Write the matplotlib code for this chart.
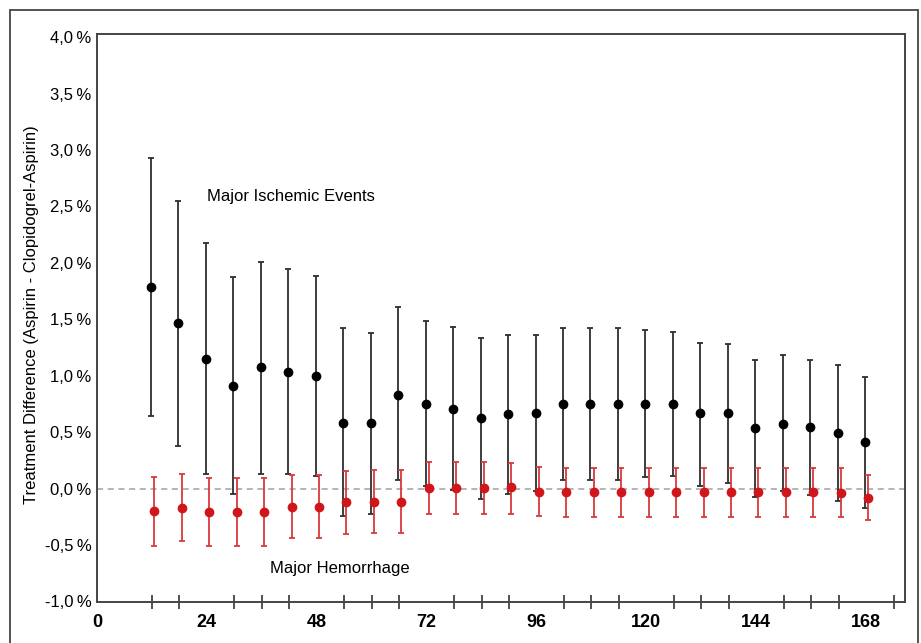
import numpy as np
import matplotlib.pyplot as plt
from matplotlib.patches import Rectangle

plt.rcParams['font.family'] = ['Liberation Sans', 'DejaVu Sans']

months = [12, 18, 24, 30, 36, 42, 48, 54, 60, 66, 72, 78, 84, 90,
          96, 102, 108, 114, 120, 126, 132, 138, 144, 150, 156, 162, 168]

ischemic = [1.785, 1.47, 1.146, 0.91, 1.075, 1.031, 0.993, 0.579, 0.579, 0.833,
            0.745, 0.706, 0.623, 0.659, 0.668, 0.745, 0.745, 0.745, 0.747, 0.745,
            0.670, 0.670, 0.537, 0.573, 0.541, 0.493, 0.413]
ischemic_hi = [2.928, 2.544, 2.172, 1.876, 2.004, 1.944, 1.879, 1.42, 1.377, 1.607,
               1.483, 1.43, 1.332, 1.359, 1.359, 1.421, 1.421, 1.421, 1.403, 1.388,
               1.288, 1.279, 1.143, 1.184, 1.143, 1.099, 0.987]
ischemic_lo = [0.641, 0.381, 0.133, -0.05, 0.133, 0.133, 0.115, -0.246, -0.222, 0.076,
               0.027, -0.009, -0.092, -0.044, -0.018, 0.076, 0.076, 0.076, 0.098, 0.115,
               0.027, 0.047, -0.071, -0.021, -0.059, -0.106, -0.172]

hemorrhage = [-0.201, -0.175, -0.21, -0.21, -0.21, -0.166, -0.166, -0.121, -0.121, -0.121,
              0.005, 0.005, 0.005, 0.014, -0.035, -0.035, -0.035, -0.035, -0.035, -0.035,
              -0.035, -0.035, -0.035, -0.035, -0.035, -0.041, -0.086]
hemorrhage_hi = [0.106, 0.13, 0.091, 0.091, 0.091, 0.121, 0.121, 0.156, 0.16, 0.16,
                 0.233, 0.233, 0.233, 0.23, 0.189, 0.186, 0.186, 0.186, 0.186, 0.186,
                 0.186, 0.186, 0.186, 0.186, 0.186, 0.186, 0.118]
hemorrhage_lo = [-0.512, -0.464, -0.505, -0.505, -0.505, -0.434, -0.434, -0.402, -0.396, -0.396,
                 -0.222, -0.222, -0.222, -0.222, -0.246, -0.252, -0.252, -0.252, -0.252, -0.252,
                 -0.252, -0.252, -0.252, -0.252, -0.252, -0.252, -0.275]

ytick_vals = [-1.0, -0.5, 0.0, 0.5, 1.0, 1.5, 2.0, 2.5, 3.0, 3.5, 4.0]
xtick_vals = [0, 24, 48, 72, 96, 120, 144, 168]

x = np.array(months, dtype=float)
isc = np.array(ischemic)
hem = np.array(hemorrhage)
isc_err = [isc - np.array(ischemic_lo), np.array(ischemic_hi) - isc]
hem_err = [hem - np.array(hemorrhage_lo), np.array(hemorrhage_hi) - hem]

fig = plt.figure(figsize=(9.21, 6.43), dpi=100)
ax = fig.add_axes([0.1053, 0.0638, 0.8773, 0.8829])

# outer frame, cut off at the bottom like the source
fig.patches.append(Rectangle((10 / 921, -0.05), 908 / 921, (643 - 10) / 643 + 0.05,
                             transform=fig.transFigure, fill=False,
                             edgecolor='#444444', linewidth=1.3))

ax.axhline(0, color='#a0a0a0', linestyle=(0, (4, 3)), linewidth=1.1, zorder=1)

ax.errorbar(x - 0.2, isc, yerr=isc_err, fmt='o', color='black', ms=6,
            ecolor='#2e2e2e', elinewidth=1.3, capsize=2.2, capthick=1.3, zorder=3)
ax.errorbar(x + 0.5, hem, yerr=hem_err, fmt='o', color='#d0151b', ms=6,
            ecolor='#d83a3a', elinewidth=1.3, capsize=2.4, capthick=1.3, zorder=3)

ax.text(24, 2.59, 'Major Ischemic Events', fontsize=12, va='center', ha='left')
ax.text(37.8, -0.707, 'Major Hemorrhage', fontsize=12, va='center', ha='left')

ax.set_xlim(0, 176.5)
ax.set_ylim(-1.005, 4.025)

ax.set_yticks(ytick_vals)
ax.set_yticklabels([('%.1f' % v).replace('.', ',') + '\u2009%' for v in ytick_vals],
                   fontsize=12)
ax.tick_params(axis='y', length=0, pad=4)

ax.set_xticks(xtick_vals)
ax.set_xticklabels([str(v) for v in xtick_vals], fontsize=13, fontweight='bold')
ax.set_xticks(np.arange(12, 175, 6), minor=True)
ax.tick_params(axis='x', which='major', length=0, pad=9)
ax.tick_params(axis='x', which='minor', direction='inout', length=10,
               width=1.2, color='#333333')

for s in ax.spines.values():
    s.set_color('#444444')
    s.set_linewidth(1.4)

fig.text(32 / 921, 0.51, 'Treatment Difference (Aspirin - Clopidogrel-Aspirin)',
         rotation=90, ha='center', va='center', fontsize=12)

fig.savefig('out.png', dpi=100)
